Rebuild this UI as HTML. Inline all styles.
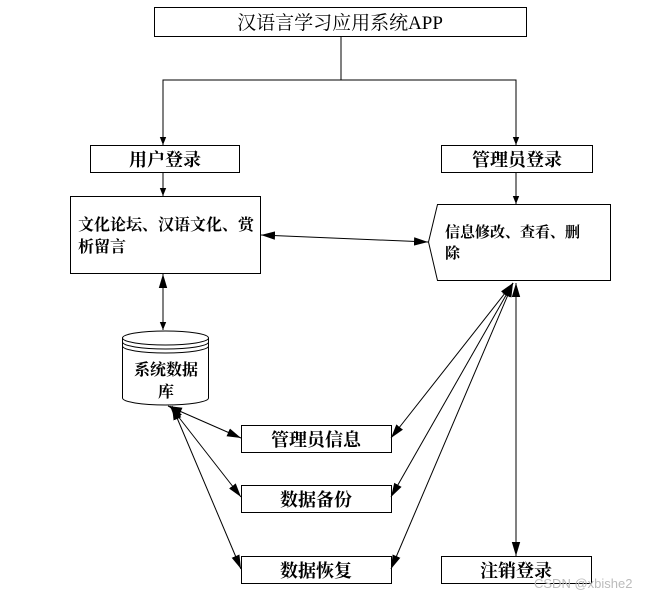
<!DOCTYPE html>
<html><head><meta charset="utf-8"><style>body{margin:0;background:#fff}</style></head><body>
<svg width="652" height="599" xmlns="http://www.w3.org/2000/svg" style="font-family:'Liberation Serif','Noto Serif CJK SC',serif">
<defs><marker id="a" viewBox="0 0 10 10" refX="10" refY="5" markerWidth="8" markerHeight="8" orient="auto-start-reverse" markerUnits="userSpaceOnUse"><path d="M0,1 L10,5 L0,9z" fill="#000"/></marker>
<marker id="b" viewBox="0 0 10 10" refX="10" refY="5" markerWidth="14" markerHeight="14" orient="auto-start-reverse" markerUnits="userSpaceOnUse"><path d="M0,2 L10,5 L0,8z" fill="#000"/></marker></defs>
<g fill="none" stroke="#000" stroke-width="1">
<rect x="154.5" y="7.5" width="372" height="29"/>
<polyline points="341,37 341,80"/>
<polyline points="163,145 163,80 516,80 516,145" marker-start="url(#a)" marker-end="url(#a)"/>
<rect x="90.5" y="145.5" width="149" height="27"/>
<rect x="441.5" y="145.5" width="151" height="27"/>
<line x1="163" y1="173" x2="163" y2="196" marker-end="url(#a)"/>
<line x1="516" y1="173" x2="516" y2="204" marker-end="url(#a)"/>
<rect x="70.5" y="196.5" width="190" height="77"/>
<path d="M437.5,204.5 L610.5,204.5 L610.5,280.5 L437.5,280.5 L428.5,242 Z"/>
<line x1="261" y1="235" x2="428" y2="242" marker-start="url(#b)" marker-end="url(#b)"/>
<line x1="163" y1="274" x2="163" y2="330" marker-start="url(#b)" marker-end="url(#a)"/>
<path d="M122.5,338 L122.5,398 A43,7 0 0 0 208.5,398 L208.5,338"/>
<ellipse cx="165.5" cy="338" rx="43" ry="7"/>
<path d="M122.5,342 A43,7 0 0 0 208.5,342 M122.5,346 A43,7 0 0 0 208.5,346"/>
<rect x="241.5" y="425.5" width="150" height="27"/>
<rect x="241.5" y="485.5" width="150" height="27"/>
<rect x="241.5" y="556.5" width="150" height="27"/>
<rect x="441.5" y="556.5" width="150" height="27"/>
<line x1="168" y1="406" x2="241" y2="438" marker-start="url(#b)" marker-end="url(#b)"/>
<line x1="170" y1="406" x2="241" y2="497" marker-start="url(#b)" marker-end="url(#b)"/>
<line x1="172" y1="406" x2="241" y2="569" marker-start="url(#b)" marker-end="url(#b)"/>
<line x1="513" y1="283" x2="391" y2="438" marker-start="url(#b)" marker-end="url(#b)"/>
<line x1="513" y1="283" x2="391" y2="497" marker-start="url(#b)" marker-end="url(#b)"/>
<line x1="513" y1="283" x2="391" y2="569" marker-start="url(#b)" marker-end="url(#b)"/>
<line x1="516" y1="283" x2="516" y2="556" marker-start="url(#b)" marker-end="url(#b)"/>
</g>
<g fill="#000" text-anchor="middle">
<text x="340" y="29" font-size="19">汉语言学习应用系统APP</text>
<text x="165" y="166" font-size="18" font-weight="bold">用户登录</text>
<text x="517" y="166" font-size="18" font-weight="bold">管理员登录</text>
<text x="316" y="446" font-size="18" font-weight="bold">管理员信息</text>
<text x="316" y="506" font-size="18" font-weight="bold">数据备份</text>
<text x="316" y="577" font-size="18" font-weight="bold">数据恢复</text>
<text x="516" y="577" font-size="18" font-weight="bold">注销登录</text>
<text x="166" y="375" font-size="16" font-weight="bold">系统数据</text>
<text x="166" y="397" font-size="16" font-weight="bold">库</text>
</g>
<g fill="#000" font-weight="bold">
<text x="78" y="230" font-size="16">文化论坛、汉语文化、赏</text>
<text x="78" y="252" font-size="16">析留言</text>
<text x="445" y="237" font-size="15">信息修改、查看、删</text>
<text x="445" y="258" font-size="15">除</text>
</g>
<text x="534" y="588" font-size="13" fill="#bbb" font-family="Liberation Sans,sans-serif">CSDN @xbishe2</text>
</svg>
</body></html>
